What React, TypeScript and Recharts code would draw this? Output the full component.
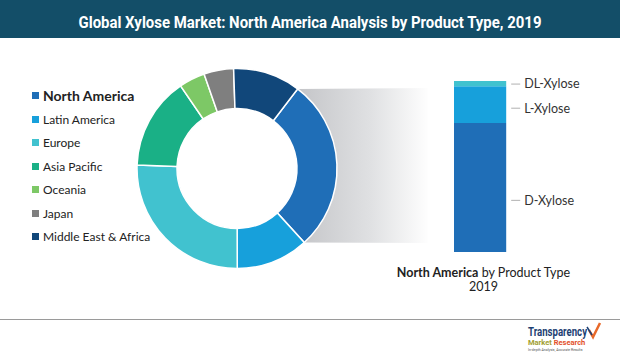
import React from 'react';
import { PieChart, Pie, Cell, BarChart, Bar, XAxis, YAxis, LabelList } from 'recharts';

const REGIONS = ['North America', 'Latin America', 'Europe', 'Asia Pacific', 'Oceania', 'Japan', 'Middle East & Africa'];
const REGION_SHARE = [27.9, 11.7, 25.6, 14.9, 4.2, 4.8, 10.9];
const REGION_COLORS = ['#1f6eb7', '#17a0db', '#41c2cf', '#1ab086', '#7dc866', '#7f7f7f', '#11477a'];

const PRODUCTS = ['D-Xylose', 'L-Xylose', 'DL-Xylose'];
const PRODUCT_SHARE = [75.5, 21.5, 3.0];
const PRODUCT_COLORS = ['#1f6eb7', '#17a0db', '#41c2cf'];

const W = 620;
const H = 356;
const FONT = 'Lato, "Liberation Sans", sans-serif';

// donut geometry
const CX = 237;
const CY = 168.5;
const R_IN = 60;
const R_OUT = 100;
const START = 52.7;

const pieData = REGIONS.map((name, i) => ({ name, value: REGION_SHARE[i], fill: REGION_COLORS[i] }));
const barRow: Record<string, any> = { name: 'North America' };
PRODUCTS.forEach((p, i) => (barRow[p] = PRODUCT_SHARE[i]));
const barData = [barRow];

const polar = (deg: number) => {
  const a = (deg * Math.PI) / 180;
  return [CX + R_OUT * Math.cos(a), CY - R_OUT * Math.sin(a)];
};

const LegendList = () => (
  <div style={{ position: 'absolute', left: 32, top: 84, fontFamily: FONT, color: '#222' }}>
    {REGIONS.map((r, i) => (
      <div key={r} style={{ display: 'flex', alignItems: 'center', height: 23.5 }}>
        <span style={{ width: 7, height: 7, background: REGION_COLORS[i], marginRight: 4, flex: 'none' }} />
        <span style={{ fontSize: i === 0 ? 14 : 12, fontWeight: i === 0 ? 700 : 400, whiteSpace: 'nowrap' }}>{r}</span>
      </div>
    ))}
  </div>
);

const SideLabel = (props: any) => {
  const { x, y, width, height, value } = props;
  const ly = y + height * 0.6;
  return (
    <g>
      <line x1={x + width + 5} x2={x + width + 14} y1={ly} y2={ly} stroke="#b0b0b0" strokeWidth={1} />
      <text x={x + width + 18} y={ly} dy="0.35em" fontSize={12.5} fill="#333" fontFamily={FONT}>
        {value}
      </text>
    </g>
  );
};

export default function App() {
  const naSpan = (REGION_SHARE[0] / REGION_SHARE.reduce((a, b) => a + b, 0)) * 360;
  const [x1, y1] = polar(START);
  const [x4, y4] = polar(START - naSpan);

  return (
    <div style={{ position: 'absolute', left: 0, top: 0, width: W, height: H, background: '#fff', overflow: 'hidden' }}>
      <svg width={W} height={H} style={{ position: 'absolute', left: 0, top: 0 }}>
        <defs>
          <linearGradient id="fade" x1="0" x2="1" y1="0" y2="0">
            <stop offset="0%" stopColor="#c4c5c8" />
            <stop offset="55%" stopColor="#dfe0e2" />
            <stop offset="100%" stopColor="#fefefe" />
          </linearGradient>
        </defs>
        <rect x={0} y={0} width={W} height={38} fill="#134e68" />
        <text x={310} y={27.5} textAnchor="middle" fill="#fff" fontFamily="Roboto, sans-serif" fontWeight={700} fontSize={17} textLength={463} lengthAdjust="spacingAndGlyphs">
          Global Xylose Market: North America Analysis by Product Type, 2019
        </text>
        <polygon points={`${x1},${y1} 428,88 428,243 ${x4},${y4}`} fill="url(#fade)" />
        <text x={483.5} y={277} textAnchor="middle" fontSize={12.5} fill="#222" fontFamily={FONT}>
          <tspan fontWeight={700}>North America</tspan> by Product Type
        </text>
        <text x={483.5} y={291} textAnchor="middle" fontSize={12.5} fill="#222" fontFamily={FONT}>2019</text>
        <line x1={0} x2={W} y1={319.5} y2={319.5} stroke="#9a9a9a" strokeWidth={1} />
        {/* logo */}
        <text x={528} y={336} fontSize={12} fontWeight={700} fill="#1d3f73" fontFamily="Roboto, sans-serif" textLength={59} lengthAdjust="spacingAndGlyphs">Transparency</text>
        <polyline points="589,330 593,337 600,323" fill="none" stroke="#e8692a" strokeWidth={2.5} />
        <polyline points="587,327 592,335" fill="none" stroke="#1d3f73" strokeWidth={1.5} />
        <text x={528} y={345} fontSize={7.5} fontWeight={700} fontFamily="Roboto, sans-serif">
          <tspan fill="#a2a032">Market </tspan>
          <tspan fill="#e2512b">Research</tspan>
        </text>
        <text x={528} y={351} fontSize={3.5} fill="#555" fontFamily="Roboto, sans-serif">In-depth Analysis, Accurate Results</text>
      </svg>

      <div style={{ position: 'absolute', left: 0, top: 0 }}>
        <PieChart width={W} height={H} margin={{ top: 0, right: 0, bottom: 0, left: 0 }}>
          <Pie
            data={pieData}
            dataKey="value"
            nameKey="name"
            cx={CX}
            cy={CY}
            innerRadius={R_IN}
            outerRadius={R_OUT}
            startAngle={START}
            endAngle={START - 360}
            stroke="#fff"
            strokeWidth={1.5}
            isAnimationActive={false}
          >
            {pieData.map((d) => (
              <Cell key={d.name} fill={d.fill} />
            ))}
          </Pie>
        </PieChart>
      </div>

      <LegendList />

      <div style={{ position: 'absolute', left: 0, top: 0 }}>
        <BarChart width={W} height={H} data={barData} margin={{ top: 81, right: W - 509, bottom: H - 252, left: 451 }} barCategoryGap={0}>
          <XAxis dataKey="name" hide />
          <YAxis hide domain={[0, 100]} />
          {PRODUCTS.map((p, i) => (
            <Bar key={p} dataKey={p} stackId="a" fill={PRODUCT_COLORS[i]} barSize={58} isAnimationActive={false}>
              <LabelList dataKey={() => p} content={<SideLabel />} />
            </Bar>
          ))}
        </BarChart>
      </div>
    </div>
  );
}
